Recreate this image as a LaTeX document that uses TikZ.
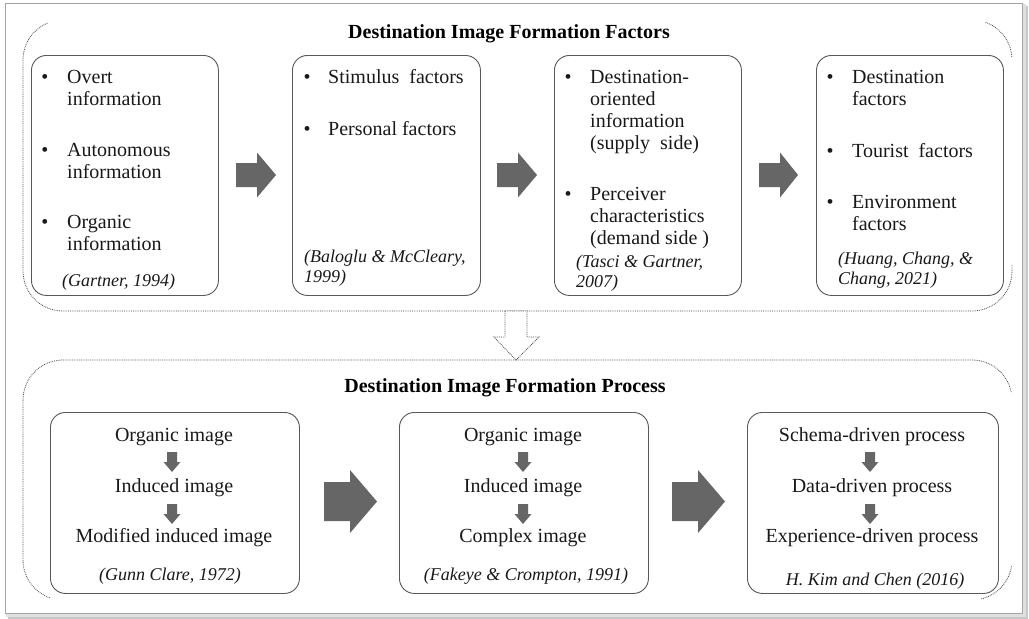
\documentclass[tikz,border=0pt]{standalone}
\usepackage{fontspec}
\setmainfont{Liberation Serif}
\newcommand\TL[1]{\begin{tabular}[t]{@{}l@{}}#1\end{tabular}}
\newcommand\RArr[6]{\fill[blk] (#1,#4-#5) -- (#2,#4-#5) -- (#2,#4-#6) -- (#3,#4) -- (#2,#4+#6) -- (#2,#4+#5) -- (#1,#4+#5) -- cycle;}
\newcommand\DArr[2]{\fill[blk] (#1-5,#2) -- (#1+5,#2) -- (#1+5,#2+10) -- (#1+8.5,#2+10) -- (#1,#2+20) -- (#1-8.5,#2+10) -- (#1-5,#2+10) -- cycle;}
\begin{document}
\begin{tikzpicture}[x=1pt,y=-1pt,
  box/.style={draw=black!65, line width=0.9pt, rounded corners=15pt, minimum width=#1, anchor=north west, inner sep=0pt},
  region/.style={draw=black!72, line width=0.8pt, densely dotted},
  blk/.style={fill=black!60, draw=none},
  txt/.style={font=\fontsize{20}{22}\selectfont, inner sep=0pt, anchor=base west, text=black!90},
  ctxt/.style={font=\fontsize{20}{22}\selectfont, inner sep=0pt, anchor=base, text=black!90},
  bul/.style={font=\fontsize{20}{22}\selectfont, inner sep=0pt, anchor=base, text=black!90},
  cite/.style={font=\fontsize{18}{20}\selectfont\itshape, inner sep=0pt, anchor=base west, text=black!90},
  ccite/.style={font=\fontsize{18}{20}\selectfont\itshape, inner sep=0pt, anchor=base, text=black!90},
  ttl/.style={font=\fontsize{20}{22}\selectfont\bfseries, inner sep=0pt, anchor=base, text=black}]
\useasboundingbox (0,0) rectangle (1029,619);
% outer frame with shadow
\fill[black!22] (8,6) rectangle (1028,619);
\fill[black!12] (6,4) rectangle (1026,617);
\filldraw[fill=white, draw=black!35, line width=0.6pt] (5,3) rectangle (1022,613);

% ---------- top region ----------
\begin{scope}
\clip (0,21) rectangle (48,330) (0,290) rectangle (1029,330) (985,0) rectangle (1029,57) (985,265) rectangle (1029,330);
\draw[region] (23,20) [rounded corners=40pt] rectangle (1012,311);
\end{scope}
\node[ttl] (t1) at (509,38) {Destination Image Formation Factors};

\node[box=187pt, minimum height=240pt] (b1) at (31,55) {};
\node[box=188pt, minimum height=240pt] (b2) at (292,55) {};
\node[box=187pt, minimum height=240pt] (b3) at (554,55) {};
\node[box=187pt, minimum height=240pt] (b4) at (816,55) {};

% box 1
\node[bul] (b1p1) at (45,83) {\textbullet};
\node[txt] (b1t1) at (67,83) {\TL{Overt\\information}};
\node[bul] (b1p2) at (45,156) {\textbullet};
\node[txt] (b1t2) at (67,156) {\TL{Autonomous\\information}};
\node[bul] (b1p3) at (45,228) {\textbullet};
\node[txt] (b1t3) at (67,228) {\TL{Organic\\information}};
\node[cite] (b1c) at (62,286) {(Gartner, 1994)};

% box 2
\node[bul] (b2p1) at (307,83) {\textbullet};
\node[txt] (b2t1) at (328,83) {Stimulus\ \ factors};
\node[bul] (b2p2) at (307,135) {\textbullet};
\node[txt] (b2t2) at (328,135) {Personal factors};
\node[cite] (b2c) at (304,262) {\begin{tabular}[t]{@{}l@{}}(Baloglu \& McCleary,\\1999)\end{tabular}};

% box 3
\node[bul] (b3p1) at (568,83) {\textbullet};
\node[txt] (b3t1) at (590,83) {\TL{Destination-\\oriented\\information\\(supply\ \ side)}};
\node[bul] (b3p2) at (568,200) {\textbullet};
\node[txt] (b3t2) at (590,200) {\TL{Perceiver\\characteristics\\(demand side )}};
\node[cite] (b3c) at (576,267) {\begin{tabular}[t]{@{}l@{}}(Tasci \& Gartner,\\2007)\end{tabular}};

% box 4
\node[bul] (b4p1) at (830,83) {\textbullet};
\node[txt] (b4t1) at (852,83) {\TL{Destination\\factors}};
\node[bul] (b4p2) at (830,157) {\textbullet};
\node[txt] (b4t2) at (852,157) {Tourist\ \ factors};
\node[bul] (b4p3) at (830,208) {\textbullet};
\node[txt] (b4t3) at (852,208) {\TL{Environment\\factors}};
\node[cite] (b4c) at (838,264) {\begin{tabular}[t]{@{}l@{}}(Huang, Chang, \&\\Chang, 2021)\end{tabular}};

% top block arrows
\RArr{236}{257}{276}{175}{12}{22.5}
\RArr{497}{518}{537}{175}{12}{22.5}
\RArr{759}{780}{798}{175}{12}{22.5}

% hollow arrow between regions
\draw[region, fill=white] (505,311) -- (527,311) -- (527,337) -- (539,337) -- (516,360) -- (494,337) -- (505,337) -- cycle;

% ---------- bottom region ----------
\begin{scope}
\clip (0,350) rectangle (1029,392) (0,350) rectangle (50,610) (981,565) rectangle (1029,610);
\draw[region] (23,360) [rounded corners=40pt] rectangle (1012,600);
\end{scope}
\node[ttl] (t2) at (505,392) {Destination Image Formation Process};

\node[box=249pt, minimum height=181pt] (b5) at (50,412) {};
\node[box=249pt, minimum height=181pt] (b6) at (399,412) {};
\node[box=251pt, minimum height=181pt] (b7) at (747,412) {};

% box 5
\node[ctxt] (b5a) at (174,441) {Organic image};
\DArr{172}{452}
\node[ctxt] (b5b) at (174,492) {Induced image};
\DArr{172}{504}
\node[ctxt] (b5c) at (174,542) {Modified induced image};
\node[ccite] (b5d) at (170,580) {(Gunn Clare, 1972)};

% box 6
\node[ctxt] (b6a) at (523,441) {Organic image};
\DArr{523}{452}
\node[ctxt] (b6b) at (523,492) {Induced image};
\DArr{523}{504}
\node[ctxt] (b6c) at (523,542) {Complex image};
\node[ccite] (b6d) at (526,580) {(Fakeye \& Crompton, 1991)};

% box 7
\node[ctxt] (b7a) at (872,441) {Schema-driven process};
\DArr{870}{452}
\node[ctxt] (b7b) at (872,492) {Data-driven process};
\DArr{870}{504}
\node[ctxt] (b7c) at (872,542) {Experience-driven process};
\node[ccite] (b7d) at (875,585) {H. Kim and Chen (2016)};

% bottom block arrows
\RArr{324}{350}{377}{501.5}{19.5}{31.5}
\RArr{672}{698}{725}{501.5}{19.5}{31.5}
\end{tikzpicture}
\end{document}
